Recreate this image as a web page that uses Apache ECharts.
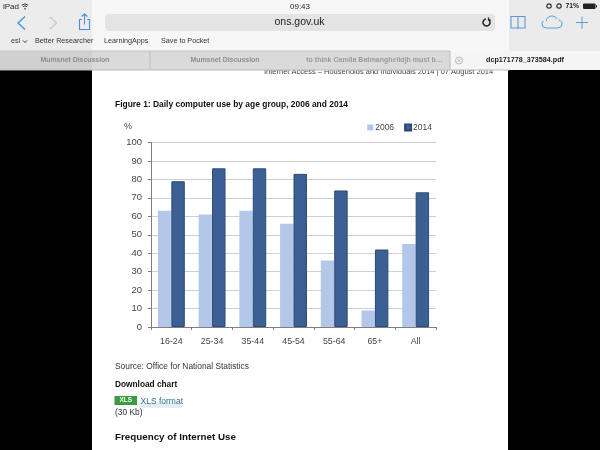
<!DOCTYPE html>
<html><head><meta charset="utf-8">
<style>html,body{margin:0;padding:0;background:#000}#c{width:600px;height:450px}</style>
<script src="https://cdn.jsdelivr.net/npm/echarts@6/dist/echarts.min.js"></script>
</head><body><div id="c"></div>
<script>
const categories = ['16-24','25-34','35-44','45-54','55-64','65+','All'];
const values2006 = [63,61,63,56,36,9,45];
const values2014 = [79,86,86,83,74,42,73];
const yTicks = {min:0,max:100,interval:10};
const F = '"Liberation Sans", Arial, sans-serif';

function t(x,y,text,size,color,weight,align){
  return {type:'text',x,y,silent:true,style:{text,fontFamily:F,fontSize:size,fill:color,fontWeight:weight||'normal',align:align||'left',verticalAlign:'middle'}};
}
function r(x,y,w,h,fill,rad){
  return {type:'rect',silent:true,shape:{x,y,width:w,height:h,r:rad||0},style:{fill}};
}
function pl(points,stroke,w){
  return {type:'polyline',silent:true,shape:{points},style:{fill:'none',stroke,lineWidth:w||1.2}};
}
function a(cx,cy,rad,s,e,stroke,w){
  const d=Math.PI/180;
  return {type:'arc',silent:true,shape:{cx,cy,r:rad,startAngle:s*d,endAngle:e*d,clockwise:true},style:{fill:'none',stroke,lineWidth:w||1}};
}
function c(cx,cy,rad,stroke,w,fill){
  return {type:'circle',silent:true,shape:{cx,cy,r:rad},style:{fill:fill||'none',stroke,lineWidth:w||1}};
}
const blue='#4a90d9', blue2='#5a9bd8';
const back=[
  r(0,0,600,450,'#000000'),
  r(92,70,416,380,'#ffffff'),
  t(264,72,'Internet Access \u2013 Households and Individuals 2014 | 07 August 2014',7.5,'#444'),
  r(0,0,600,51,'#f7f7f7'),
  r(0,0,92,51,'#ececec'),
  r(509,0,91,51,'#ebebeb'),
  r(105,14,390,17,'#e4e4e4',4),
  r(0,51,450,19,'#dadada'),
  r(0,51,92,19,'#d0d0d0'),
  r(450,51,150,19,'#f5f5f5'),
  r(0,50.5,450,1,'#c4c4c4'),
  r(0,69.5,509,1,'#bdbdbd'),
  r(149.5,51,1,19,'#bdbdbd'),
  r(449.5,51,1,19,'#bdbdbd'),
];
const front=[
  t(3,6.5,'iPad',8,'#222'),
  a(25,9,5,-130,-50,'#333',1),
  a(25,9,3,-130,-50,'#333',1),
  c(25,8.8,0.5,'#333',0.5,'#333'),
  t(299.5,22.5,'ons.gov.uk',10.5,'#222',null,'center'),
  t(300,6.5,'09:43',8,'#222','normal','center'),
  t(579,6.5,'71%',6.8,'#222','bold','right'),
  r(583,3.5,12.5,5.5,'#222',1),
  r(596,5,1,2.5,'#222'),
  c(549,6,2.2,'#333',1.2),
  c(559,6,2.2,'#333',1.2),
  pl([[25,16.5],[18,23],[25,29.5]],blue,1.4),
  pl([[50,17],[56.5,23],[50,29]],'#c8c8c8',1.2),
  pl([[82,19.5],[79.5,19.5],[79.5,29.5],[89.5,29.5],[89.5,19.5],[87,19.5]],blue,1.1),
  pl([[84.5,14],[84.5,24.5]],blue,1.1),
  pl([[81.5,16.5],[84.5,14],[87.5,16.5]],blue,1.1),
  a(486.5,22.5,3.5,-50,260,'#222',1.5),
  pl([[488.5,17.5],[488.5,20],[491,20]],'#222',1.2),
  pl([[518,16.5],[511,16.5],[511,28],[525,28],[525,16.5],[518,16.5],[518,29]],blue2,1.1),
  pl([[546,28],[558,28]],blue2,1),
  a(558,24,4,-80,90,blue2,1),
  a(552,22,6,-170,-30,blue2,1),
  a(546,24,4,90,230,blue2,1),
  pl([[582,16.5],[582,29]],blue2,1),
  pl([[576,22.5],[588,22.5]],blue2,1),
  t(11,41.5,'esl',7.2,'#333'),
  pl([[23,40.5],[25,42.5],[27,40.5]],'#333',1),
  t(35,41.5,'Better Researcher',7.2,'#333'),
  t(104,41.5,'LearningApps',7.2,'#333'),
  t(161,41.5,'Save to Pocket',7.2,'#333'),
  t(75,60.5,'Mumsnet Discussion',6.9,'#8d8d8d','bold','center'),
  t(225,60.5,'Mumsnet Discussion',6.9,'#8d8d8d','bold','center'),
  t(374.5,60.5,'to think Camila Batmanghelidjh must b\u2026',7,'#9a9a9a','bold','center'),
  c(459,60.5,3.5,'#a8a8a8',0.8),
  pl([[457.5,59],[460.5,62]],'#a8a8a8',0.8),
  pl([[460.5,59],[457.5,62]],'#a8a8a8',0.8),
  t(525,60.5,'dcp171778_373584.pdf',7.2,'#222','bold','center'),
  t(115,105,'Figure 1: Daily computer use by age group, 2006 and 2014',8.45,'#111','bold'),
  t(124,127,'%',9,'#444'),
  t(115,366.5,'Source: Office for National Statistics',8.4,'#333'),
  t(115,384.5,'Download chart',8.3,'#111','bold'),
  r(114.5,396,22.5,9,'#3c9a3f'),
  t(125.7,400.5,'XLS',6.5,'#ffffff','bold','center'),
  r(140,403,42,5,'#e3eef5'),
  t(140.5,402,'XLS format',8.5,'#2f6e8f'),
  t(115,412.5,'(30 Kb)',8.4,'#333'),
  t(115,437,'Frequency of Internet Use',9.8,'#111','bold'),
];
const chart=echarts.init(document.getElementById('c'),null,{renderer:'canvas'});
chart.setOption({
  animation:false,
  backgroundColor:'transparent',
  graphic:{elements:[{type:'group',z:-10,silent:true,children:back},{type:'group',z:20,silent:true,children:front}]},
  legend:{
    right:163,top:118,itemWidth:6,itemHeight:6,itemGap:10,
    icon:'rect',
    textStyle:{fontFamily:F,fontSize:8.5,color:'#444',padding:[0,0,0,-3]},
    data:['2006','2014']
  },
  grid:{left:151,right:164,top:142.5,bottom:123,containLabel:false},
  xAxis:{
    type:'category',data:categories,
    axisLine:{lineStyle:{color:'#7f7f7f',width:1}},
    axisTick:{show:true,length:3,lineStyle:{color:'#7f7f7f'},alignWithLabel:false},
    axisLabel:{fontFamily:F,fontSize:8.8,color:'#444',margin:10}
  },
  yAxis:{
    type:'value',min:yTicks.min,max:yTicks.max,interval:yTicks.interval,
    axisLine:{show:true,lineStyle:{color:'#7f7f7f',width:1}},
    axisTick:{show:true,length:3,lineStyle:{color:'#7f7f7f'}},
    axisLabel:{fontFamily:F,fontSize:9.5,color:'#444',margin:9},
    splitLine:{lineStyle:{color:'#cfcfcf',width:1}}
  },
  series:[
    {name:'2006',type:'bar',data:values2006,barWidth:'33%',barGap:'0%',z:3,
     itemStyle:{color:'#b3c8e8'}},
    {name:'2014',type:'bar',data:values2014,barWidth:'33%',barGap:'0%',z:3,
     itemStyle:{color:'#3b6094',borderColor:'#2c4a75',borderWidth:1}}
  ]
});
</script></body></html>
